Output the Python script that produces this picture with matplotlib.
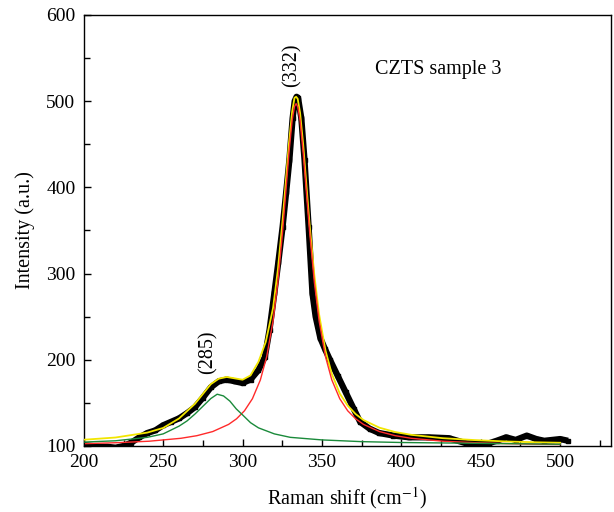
import matplotlib
matplotlib.use("Agg")
import matplotlib.pyplot as plt
from matplotlib.ticker import MultipleLocator

plt.rcParams['font.family'] = ['Liberation Serif', 'DejaVu Serif']
plt.rcParams['mathtext.fontset'] = 'stix'

# measured spectrum (black)
data_x = [200, 205, 210, 215, 220, 225, 230, 235, 240, 245, 250, 255, 260, 265,
          270, 275, 280, 285, 290, 295, 300, 305, 310, 314, 317, 320, 322.5, 325.2,
          327.5, 329.5, 331.5, 332.8, 334, 335, 337, 339, 341.6, 344, 346, 349, 352,
          355, 360, 365, 370, 374, 380, 386, 395, 405, 417, 430, 441, 450, 455,
          460, 466, 472, 479, 485, 490, 495, 500, 505]
data_y = [101, 100, 99, 99, 98, 100, 104, 110, 115, 118, 124, 128, 132, 138,
          145, 156, 168, 175, 177, 175, 173, 177, 188, 203, 235, 277, 313, 354,
          395, 432, 480, 500, 505, 503, 480, 432, 354, 277, 250, 225, 212,
          200, 181, 162, 143, 128, 120, 115, 112, 110, 110, 109, 103, 103, 103,
          106, 110, 107, 112, 108, 106, 107, 108, 106]

# peak fit at 332 (red)
red_x = [201.2, 221.2, 241.2, 261.2, 271.2, 281.2, 291.2, 296.2, 301.2, 306.2,
         311.2, 315.2, 319.2, 322.2, 325.2, 327.2, 329.2, 331.2, 332.7, 333.7,
         334.7, 336.2, 338.2, 340.2, 342.2, 345.2, 348.2, 352.2, 356.2, 361.2,
         366.2, 371.2, 376.2, 386.2, 396.2, 406.2, 426.2, 446.2, 466.2, 486.2, 500]
red_y = [102.7, 103.8, 105.5, 108.9, 111.9, 116.7, 125, 131.5, 140.8, 154.8,
         176.6, 203.7, 245, 290, 348.6, 394, 440, 477.5, 493.7, 497, 493.7,
         477.5, 440, 394, 348.6, 290, 245, 203.7, 176.6, 154.8, 140.8, 131.5,
         125, 116.7, 111.9, 108.9, 105.5, 103.8, 102.7, 102.0, 101.7]

# peak fit at 285 (green)
green_x = [200, 220, 240, 250, 260, 265, 270, 275, 280, 284, 288, 292, 296, 300,
           305, 310, 320, 330, 350, 375, 400, 450, 500]
green_y = [104.5, 106, 110, 114, 123, 129, 137, 146, 155, 160, 158, 152, 143,
           136, 127, 121, 114, 110, 107, 105, 104, 103, 102]

# cumulative fit (yellow)
fit_x = [200, 220, 240, 250, 260, 270, 280, 285, 290, 300, 305, 310, 314.6,
         319.2, 322.2, 325.2, 327.2, 329.2, 331.2, 332.7, 333.7, 334.7, 336.2,
         338.2, 340.2, 342.2, 345.2, 348.2, 352.2, 356.2, 361.2, 366.2, 371.2,
         376.2, 386.2, 396.2, 406.2, 426.2, 446.2, 466.2, 486.2, 500]
fit_y = [107.2, 109.8, 115.5, 120.9, 131.9, 148.9, 171.7, 178, 180, 176.8,
         181.8, 197.6, 220.7, 260, 304, 361.6, 406, 451, 487.5, 503.7, 505,
         502.7, 486.5, 449, 402.5, 357, 298, 252.5, 210.7, 183.6, 160.8, 146.8,
         137, 130, 121.2, 116.1, 112.9, 109, 106.8, 105.2, 104.2, 103.7]

fig = plt.figure(figsize=(6.14, 5.12), dpi=100)
ax = fig.add_axes([0.1365, 0.129, 0.8585, 0.842])

ax.plot(data_x, data_y, color='black', lw=4.5, marker='s', ms=3.5,
        solid_capstyle='butt', zorder=2)
ax.plot(fit_x, fit_y, color='#f2e600', lw=1.3, zorder=3)
ax.plot(red_x, red_y, color='#ff2a2a', lw=1.0, zorder=4)
ax.plot(green_x, green_y, color='#1a8a3a', lw=1.0, zorder=4)

ax.text(331, 542, '(332)', rotation=90, ha='center', va='center', fontsize=14.5)
ax.text(278, 209, '(285)', rotation=90, ha='center', va='center', fontsize=14.5)
ax.text(383.5, 537, 'CZTS sample 3', ha='left', va='center', fontsize=14.5)

ax.set_xlim(200, 532)
ax.set_ylim(100, 600)
ax.set_xticks([200, 250, 300, 350, 400, 450, 500])
ax.xaxis.set_minor_locator(MultipleLocator(25))
ax.yaxis.set_major_locator(MultipleLocator(100))
ax.yaxis.set_minor_locator(MultipleLocator(50))
ax.tick_params(which='both', direction='in', labelsize=14, width=1)
ax.tick_params(which='major', length=5)
ax.tick_params(which='minor', length=4)
ax.tick_params(axis='y', pad=6)
ax.tick_params(axis='x', pad=6)
for s in ax.spines.values():
    s.set_linewidth(1)

ax.set_xlabel('Raman shift (cm$^{-1}$)', fontsize=14.5, labelpad=10)
ax.set_ylabel('Intensity (a.u.)', fontsize=14.5, labelpad=8)

fig.savefig('out.png', dpi=100)
